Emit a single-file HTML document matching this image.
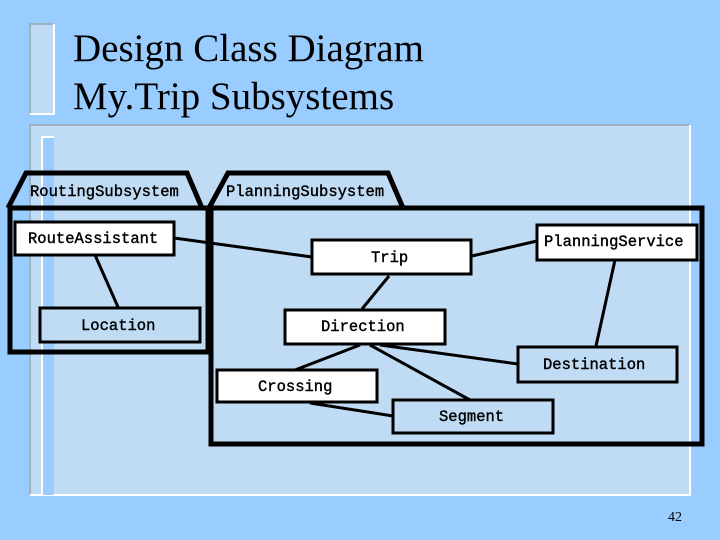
<!DOCTYPE html>
<html><head><style>
html,body{margin:0;padding:0;width:720px;height:540px;overflow:hidden;background:#99ccff;}
</style></head><body>
<svg width="720" height="540" xmlns="http://www.w3.org/2000/svg" style="position:absolute;left:0;top:0">
<rect x="0" y="0" width="720" height="540" fill="#99ccff"/>
<rect x="30" y="24" width="24" height="90" fill="#c0dcf4"/>
<path d="M30,114 V24 H54" stroke="#a0b0c0" stroke-width="2" fill="none"/>
<path d="M54,24 V114 H30" stroke="#ffffff" stroke-width="2" fill="none"/>
<rect x="30" y="125" width="660" height="370" fill="#c0dcf4"/>
<path d="M30,495 V125 H690" stroke="#a0b0c0" stroke-width="2" fill="none"/>
<path d="M690,125 V495 H30" stroke="#ffffff" stroke-width="2" fill="none"/>
<rect x="42" y="137" width="12" height="358" fill="#99ccff"/>
<path d="M42,495 V137 H54" stroke="#ffffff" stroke-width="2" fill="none"/>
<text x="73" y="61" font-family="Liberation Serif, serif" font-size="39" fill="#000">Design Class Diagram</text>
<text x="73" y="109" font-family="Liberation Serif, serif" font-size="39" fill="#000">My.Trip Subsystems</text>
<g stroke="#000" fill="none" stroke-width="5">
<path d="M8,208 L26,173 H187 L202,208"/>
<rect x="10" y="208" width="198" height="144"/>
<path d="M209,208 L228,173 H388 L403,208"/>
<rect x="211" y="208" width="491" height="236"/>
</g>
<g stroke="#000" stroke-width="3">
<line x1="174" y1="238" x2="312" y2="257"/>
<line x1="95" y1="255" x2="118" y2="307"/>
<line x1="472" y1="256" x2="537" y2="241"/>
<line x1="389" y1="276" x2="362" y2="309"/>
<line x1="615" y1="260" x2="596" y2="346"/>
<line x1="360" y1="345" x2="295" y2="370"/>
<line x1="380" y1="345" x2="518" y2="364"/>
<line x1="370" y1="345" x2="470" y2="400"/>
<line x1="310" y1="403" x2="393" y2="416"/>
</g>
<g stroke="#000" stroke-width="3">
<rect x="15" y="222" width="159" height="33" fill="#fff"/>
<rect x="40" y="308" width="160" height="34" fill="#c0dcf4"/>
<rect x="312" y="240" width="159" height="34" fill="#fff"/>
<rect x="537" y="225" width="160" height="35" fill="#fff"/>
<rect x="285" y="310" width="160" height="34" fill="#fff"/>
<rect x="518" y="347" width="159" height="35" fill="#c0dcf4"/>
<rect x="217" y="370" width="160" height="32" fill="#fff"/>
<rect x="393" y="400" width="160" height="33" fill="#c0dcf4"/>
</g>
<g font-family="Liberation Mono, monospace" font-size="15.5" fill="#000" stroke="#000" stroke-width="0.4">
<text x="30" y="196">RoutingSubsystem</text>
<text x="226" y="196">PlanningSubsystem</text>
<text x="28" y="243">RouteAssistant</text>
<text x="81" y="330">Location</text>
<text x="371" y="262">Trip</text>
<text x="544" y="246">PlanningService</text>
<text x="321" y="331">Direction</text>
<text x="543" y="369">Destination</text>
<text x="258" y="391">Crossing</text>
<text x="439" y="421">Segment</text>
</g>
<text x="668" y="521" font-family="Liberation Serif, serif" font-size="14" fill="#000">42</text>
</svg>
</body></html>
